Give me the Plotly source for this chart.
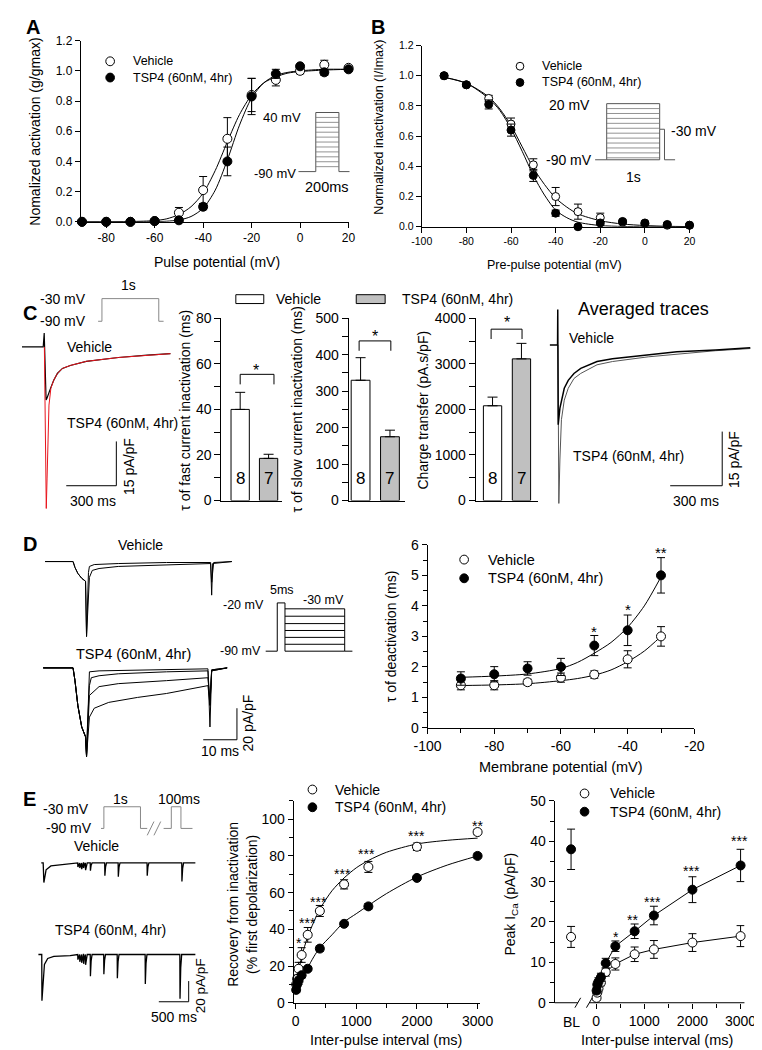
import plotly.graph_objects as go

W, H = 762, 1050
FONT = "Liberation Sans, Arial, Helvetica, sans-serif"

# ======================= DATA =======================
# ---- A: normalized activation
act_v = [-90, -80, -70, -60, -50, -40, -30, -20, -10, 0, 10, 20]
act_veh = [0, 0, 0, 0.005, 0.06, 0.21, 0.55, 0.84, 0.94, 1.0, 1.04, 1.02]
act_veh_err = [0, 0, 0, 0, 0.035, 0.09, 0.14, 0.11, 0.04, 0.02, 0.03, 0.01]
act_tsp = [0, 0, 0, 0.005, 0.01, 0.10, 0.40, 0.83, 0.98, 1.03, 0.99, 1.01]
act_tsp_err = [0, 0, 0, 0, 0, 0.02, 0.095, 0.12, 0.03, 0.01, 0.02, 0.01]
act_fit_x = [-90, -70, -60, -55, -50, -45, -40, -35, -30, -25, -20, -15, -10, -5, 0, 10, 20]
act_fit_veh = [0, 0.002, 0.008, 0.02, 0.048, 0.10, 0.19, 0.34, 0.53, 0.71, 0.84, 0.92, 0.96, 0.985, 0.995, 1.005, 1.01]
act_fit_tsp = [0, 0, 0.001, 0.004, 0.012, 0.035, 0.09, 0.21, 0.41, 0.64, 0.82, 0.92, 0.97, 0.99, 1.0, 1.01, 1.01]

# ---- B: normalized inactivation
inact_v = [-90, -80, -70, -60, -50, -40, -30, -20, -10, 0, 10, 20]
inact_veh = [1.0, 0.94, 0.85, 0.68, 0.41, 0.20, 0.10, 0.06, 0.03, 0.02, 0.01, 0.01]
inact_veh_err = [0.01, 0.01, 0.02, 0.04, 0.04, 0.06, 0.05, 0.03, 0.01, 0.01, 0.01, 0.01]
inact_tsp = [1.0, 0.94, 0.81, 0.64, 0.34, 0.09, 0.0, 0.025, 0.035, 0.025, 0.015, 0.01]
inact_tsp_err = [0.01, 0.01, 0.03, 0.04, 0.04, 0.02, 0.01, 0.01, 0.01, 0.01, 0.01, 0.01]
inact_fit_x = [-90, -80, -70, -65, -60, -55, -50, -45, -40, -35, -30, -20, -10, 0, 10, 20]
inact_fit_veh = [0.99, 0.95, 0.86, 0.78, 0.67, 0.53, 0.39, 0.28, 0.19, 0.13, 0.085, 0.04, 0.018, 0.008, 0.003, 0.001]
inact_fit_tsp = [0.99, 0.95, 0.85, 0.77, 0.65, 0.50, 0.34, 0.21, 0.11, 0.06, 0.03, 0.008, 0.002, 0.0, 0.0, 0.0]

# ---- C: bar charts
groups = ["Vehicle", "TSP4 (60nM, 4hr)"]
tau_fast = [40, 18.5]
tau_fast_err = [7.5, 1.8]
tau_slow = [330, 175]
tau_slow_err = [62, 18]
charge = [2080, 3110]
charge_err = [190, 340]
n_cells = [8, 7]

# ---- C: example traces (ms, pA/pF)
cl_veh_t = [0, 127, 133, 135.6, 141.4, 144.3, 150, 161.6, 173, 190, 212, 242, 289, 385, 577, 750, 889]
cl_veh_i = [0, 0, 4.7, -3, -14.7, -18, -17.3, -15.3, -13.7, -11.3, -9, -7.3, -6.3, -4.9, -3.6, -2.8, -2.3]
cl_tsp_t = [133.9, 140, 145.4, 150, 155.8, 161.6, 173, 190, 212, 242, 289, 385, 577, 750, 889]
cl_tsp_i = [0, -28, -54.7, -44.7, -29.7, -19.7, -14, -11.3, -9, -7.3, -6.3, -4.9, -3.6, -2.8, -2.3]

# ---- C: averaged traces (ms, pA/pF)
ca_veh_t = [0, 44.4, 45.5, 46.6, 47.5, 48, 58, 66.7, 83, 106, 139, 178, 272, 361, 567, 733, 956, 1156]
ca_veh_i = [0, 0, 9.8, 0, -15, -22.1, -17.5, -15.3, -12, -9.8, -7.9, -6.5, -4.6, -3.8, -2.7, -1.9, -1.4, -0.8]
ca_tsp_t = [46.6, 49, 51.7, 58, 66.7, 83, 106, 139, 178, 272, 361, 567, 733, 956, 1156]
ca_tsp_i = [0, -30, -43.9, -31.6, -20.7, -15.3, -12, -9.3, -7.9, -5.5, -4.6, -3.3, -2.5, -1.6, -1.0]

# ---- D: deactivation traces (ms, pA/pF)
dv_pre_t = [0, 8.29, 8.86, 9.71, 10.86, 11.71, 12.0, 12.29]
dv_pre_i = [0, 0, -3.75, -7.5, -10.6, -11.9, -12.5, -47.5]
dv_post_t = [[12.57, 12.86, 13.14, 14.57, 21.7, 36, 49.1, 49.4, 49.7, 55.4],
             [12.71, 13.14, 14, 16, 21.7, 36, 49.1, 49.4, 50, 55.4]]
dv_post_i = [[-28.8, -6.9, -3.1, -1.9, -1.25, -0.6, -0.6, -21.3, -1.25, 0],
             [-22.5, -10, -5.6, -4.4, -3.1, -1.9, -1.25, -13.1, -0.6, 0]]
dt_pre_t = [-0.57, 8.29, 8.86, 9.71, 10.86, 11.71, 12, 12.29]
dt_pre_i = [0, 0, -8.1, -23.8, -37.5, -42.5, -43.75, -56.25]
dt_post_t = [[12.57, 12.86, 13.14, 16, 36, 48.3, 48.9, 49.4, 54],
             [12.57, 13.14, 13.7, 16, 21.7, 36, 48.3, 48.9, 49.4, 54],
             [12.57, 13.14, 16, 21.7, 36, 48.3, 48.9, 49.4, 54],
             [12.57, 13.14, 14.57, 18.86, 27.4, 36, 48.3, 48.9, 49.4, 54]]
dt_post_i = [[-36.25, -17.5, -2.5, -1.9, -1.25, -0.6, -37.5, -1.9, 0],
             [-36.25, -11.25, -6.25, -5, -3.75, -2.5, -1.9, -23.75, -1.25, 0],
             [-40, -17.5, -11.9, -10, -8.1, -6.25, -20.6, -1.25, 0],
             [-45.6, -31.25, -25.6, -21.9, -18.75, -16.25, -11.25, -23.75, -1.9, 0]]

# ---- D: tau of deactivation
deact_v = [-90, -80, -70, -60, -50, -40, -30]
deact_veh = [1.4, 1.4, 1.5, 1.65, 1.75, 2.25, 3.0]
deact_veh_err = [0.15, 0.15, 0.1, 0.15, 0.12, 0.28, 0.32]
deact_tsp = [1.62, 1.76, 1.95, 2.0, 2.7, 3.2, 5.0]
deact_tsp_err = [0.22, 0.25, 0.22, 0.28, 0.33, 0.5, 0.58]
deact_fit_x = [-90, -80, -70, -60, -55, -50, -45, -40, -35, -30]
deact_fit_veh = [1.39, 1.41, 1.45, 1.55, 1.62, 1.73, 1.9, 2.17, 2.52, 3.0]
deact_fit_tsp = [1.66, 1.70, 1.77, 1.95, 2.15, 2.45, 2.8, 3.3, 4.0, 4.95]
deact_stars = ["*", "*", "**"]
deact_star_v = [-50, -40, -30]
deact_star_y = [3.17, 3.87, 5.75]

# ---- E: recovery traces (ms, pA/pF)
ev_base_t = [0, 32, 43.5, 80.6, 161, 323, 532]
ev_base_i = [0, 0, -19, -6.7, -2.9, -1.9, -1]
ev_spike_t = [613, 645, 677, 710, 742, 823, 1065, 1290, 1774, 2355]
ev_spike_i = [-4, -5, -6, -5, -7, -7.6, -12.4, -13.3, -12.4, -18]
et_base_t = [-48, 8, 11.3, 53, 108, 210, 484]
et_base_i = [0, 0, -44.8, -9.5, -3.8, -1.9, -1]
et_spike_t = [613, 645, 677, 710, 742, 823, 1048, 1274, 1742, 2323]
et_spike_i = [-5, -7, -8, -9, -10, -21, -19, -22.9, -28.6, -42.9]

# ---- E: recovery from inactivation
rec_x = [10, 25, 50, 100, 200, 400, 800, 1200, 2000, 3000]
rec_veh = [10, 13, 18.5, 26, 37, 50, 64.5, 74, 85, 93]
rec_veh_err = [2, 2, 3.5, 4, 4, 3, 2.5, 3, 2, 1.5]
rec_tsp = [7, 10, 12, 15, 18.5, 29.5, 43, 52.5, 68, 80]
rec_tsp_err = [1.5, 1.5, 2, 1.5, 1, 1.5, 1, 1.5, 1, 1.5]
rec_fit_x = [0, 50, 100, 200, 300, 400, 600, 800, 1000, 1200, 1500, 2000, 2500, 3000]
rec_fit_veh = [8, 17, 25, 36, 44, 51, 61, 68, 73.5, 77.5, 82, 86.5, 88.5, 89.7]
rec_fit_tsp = [6, 9, 12, 19, 25, 30, 37, 44, 48.5, 53, 59.5, 68.5, 75, 80]
rec_stars = ["*", "***", "***", "***", "***", "***", "**"]
rec_star_x = [60, 200, 380, 780, 1170, 2000, 3000]
rec_star_y = [32.7, 43.4, 54.7, 70.2, 81, 90.6, 96.5]

# ---- E: peak ICa
peak_veh = [1.2, 2.5, 3.5, 5.0, 7.6, 9.6, 12.0, 13.2, 14.9, 16.5]
peak_veh_err = [0.5, 0.5, 0.8, 0.8, 1.0, 1.5, 1.8, 2.2, 2.2, 2.6]
peak_tsp = [3.0, 4.5, 5.2, 6.3, 9.8, 14.0, 17.7, 21.6, 28.0, 34.0]
peak_tsp_err = [0.8, 0.8, 1.0, 1.0, 1.2, 1.3, 1.8, 2.3, 3.2, 4.0]
bl_veh, bl_veh_err = 16.3, 2.6
bl_tsp, bl_tsp_err = 38.0, 5.0
BL_POS = -520
peak_stars = ["*", "**", "***", "***", "***"]
peak_star_x = [413, 747, 1180, 1980, 2980]
peak_star_y = [16.4, 20.5, 24.9, 32.7, 40]

# ======================= HELPERS =======================
fig = go.Figure()
axes = {}
ann = []
shapes = []


def names(n):
    s = "" if n == 1 else str(n)
    return "x" + s, "y" + s


def add_axes(n, xd, yd, xr, yr, visible=True, tick=12, xkw=None, ykw=None):
    xn, yn = names(n)
    xa = dict(domain=[xd[0] / W, xd[1] / W], range=xr, anchor=yn, showgrid=False, zeroline=False)
    ya = dict(domain=[1 - yd[1] / H, 1 - yd[0] / H], range=yr, anchor=xn, showgrid=False, zeroline=False)
    if visible:
        common = dict(showline=True, linecolor="black", linewidth=1, ticks="outside", ticklen=5,
                      tickcolor="black", tickwidth=1,
                      tickfont=dict(family=FONT, size=tick, color="black"))
        xa.update(common)
        ya.update(common)
    else:
        xa.update(visible=False)
        ya.update(visible=False)
    if xkw:
        xa.update(xkw)
    if ykw:
        ya.update(ykw)
    axes["xaxis" + ("" if n == 1 else str(n))] = xa
    axes["yaxis" + ("" if n == 1 else str(n))] = ya


def txt(x, y, s, size=14, xa="center", ya="middle", angle=0, bold=False, color="black"):
    ann.append(dict(x=x / W, y=1 - y / H, xref="paper", yref="paper",
                    text=f"<b>{s}</b>" if bold else s, showarrow=False,
                    xanchor=xa, yanchor=ya, textangle=angle,
                    font=dict(family=FONT, size=size, color=color)))


def dtxt(n, x, y, s, size=14, ya="middle"):
    xn, yn = names(n)
    ann.append(dict(x=x, y=y, xref=xn, yref=yn, text=s, showarrow=False,
                    xanchor="center", yanchor=ya, font=dict(family=FONT, size=size, color="black")))


def ppath(pts, color="black", w=1):
    p = "M " + " L ".join(f"{x / W:.5f},{1 - y / H:.5f}" for x, y in pts)
    shapes.append(dict(type="path", path=p, xref="paper", yref="paper",
                       line=dict(color=color, width=w)))


def dpath(n, pts, color="black", w=1):
    xn, yn = names(n)
    p = "M " + " L ".join(f"{x},{y}" for x, y in pts)
    shapes.append(dict(type="path", path=p, xref=xn, yref=yn, line=dict(color=color, width=w)))


def circ(cx, cy, r, filled):
    shapes.append(dict(type="circle", xref="paper", yref="paper",
                       x0=(cx - r) / W, x1=(cx + r) / W, y0=1 - (cy + r) / H, y1=1 - (cy - r) / H,
                       line=dict(color="black", width=1), fillcolor="black" if filled else "white"))


def legend(cx, y1, y2, tx, size, r=4.5):
    circ(cx, y1, r, False)
    circ(cx, y2, r, True)
    txt(tx, y1, "Vehicle", size, xa="left")
    txt(tx, y2, "TSP4 (60nM, 4hr)", size, xa="left")


def pts_trace(n, x, y, err, filled, size=9):
    xn, yn = names(n)
    fig.add_trace(go.Scatter(
        x=x, y=y, xaxis=xn, yaxis=yn, mode="markers", cliponaxis=False,
        marker=dict(symbol="circle", size=size, color="black" if filled else "white",
                    line=dict(color="black", width=1)),
        error_y=dict(type="data", array=err, visible=True, color="black", thickness=1, width=4)))


def line_trace(n, x, y, color="black", w=1, shape="spline"):
    xn, yn = names(n)
    fig.add_trace(go.Scatter(x=x, y=y, xaxis=xn, yaxis=yn, mode="lines", cliponaxis=False,
                             line=dict(color=color, width=w, shape=shape, smoothing=0.8 if shape == "spline" else None)))


def hyph(vals, fmt="{:g}"):
    return [fmt.format(v).replace("−", "-") for v in vals]


# ======================= PANEL A =======================
add_axes(1, (61, 339), (25, 209), [-90.5, 20], [0, 1.2], tick=12,
         xkw=dict(tickmode="array", tickvals=[-80, -60, -40, -20, 0, 20], ticktext=hyph([-80, -60, -40, -20, 0, 20])),
         ykw=dict(tickmode="array", tickvals=[0, 0.2, 0.4, 0.6, 0.8, 1.0, 1.2],
                  ticktext=["0.0", "0.2", "0.4", "0.6", "0.8", "1.0", "1.2"]))
line_trace(1, act_fit_x, act_fit_veh)
line_trace(1, act_fit_x, act_fit_tsp)
pts_trace(1, act_v, act_veh, act_veh_err, False)
pts_trace(1, act_v, act_tsp, act_tsp_err, True)
txt(11, 11, "A", 20, bold=True)
txt(14, 117, "Nomalized activation (g/gmax)", 14, angle=-90)
txt(202, 250, "Pulse potential (mV)", 14)
legend(91.5, 46, 62.5, 113, 12.5)
# protocol inset
ppath([(287, 158), (305, 158), (305, 98), (329, 98), (329, 158), (340, 158)], "#555")
for yy in range(103, 158, 5):
    ppath([(305, yy), (329, yy)], "#777", 0.8)
txt(292, 103, "40 mV", 13, xa="right")
txt(287, 160, "-90 mV", 13, xa="right")
txt(317, 174, "200ms", 14.5)

# ======================= PANEL B =======================
add_axes(2, (415, 693), (30, 214), [-100, 20], [0, 1.2], tick=10.5,
         xkw=dict(tickmode="array", tickvals=[-100, -80, -60, -40, -20, 0, 20],
                  ticktext=hyph([-100, -80, -60, -40, -20, 0, 20])),
         ykw=dict(tickmode="array", tickvals=[0, 0.2, 0.4, 0.6, 0.8, 1.0, 1.2],
                  ticktext=["0.0", "0.2", "0.4", "0.6", "0.8", "1.0", "1.2"]))
line_trace(2, inact_fit_x, inact_fit_veh)
line_trace(2, inact_fit_x, inact_fit_tsp)
pts_trace(2, inact_v, inact_veh, inact_veh_err, False, size=8)
pts_trace(2, inact_v, inact_tsp, inact_tsp_err, True, size=8)
txt(370, 11, "B", 20, bold=True)
txt(371, 113, "Normalized inactivation (I/Imax)", 12.5, angle=-90)
txt(553, 253, "Pre-pulse potential (mV)", 12.5)
legend(517, 51, 67.5, 538, 12.5, r=4)
ppath([(595, 146), (607, 146), (607, 89), (662, 89), (662, 115), (667, 115), (667, 146), (678, 146)], "#555")
ppath([(607, 146), (662, 146)], "#555")
for yy in range(94, 146, 5):
    ppath([(607, yy), (662, yy)], "#777", 0.8)
ppath([(662, 115), (662, 146)], "#555")
txt(592, 90, "20 mV", 14, xa="right")
txt(672, 117, "-30 mV", 14, xa="left")
txt(594, 146, "-90 mV", 14, xa="right")
txt(635, 163, "1s", 14)

# ======================= PANEL C =======================
txt(8, 302, "C", 20, bold=True)
# left example trace
add_axes(3, (0, 160), (320, 505), [0, 923], [-56.33, 5.33], visible=False)
line_trace(3, cl_veh_t, cl_veh_i, "black", 1.2, "linear")
line_trace(3, cl_tsp_t, cl_tsp_i, "#e8141c", 1.0, "linear")
dpath(3, [(565 - 300, -47), (565, -47), (565, -47 + 15)], "black", 1)
txt(111, 457, "15 pA/pF", 14, angle=-90)
txt(74, 492, "300 ms", 14)
txt(45, 336, "Vehicle", 14, xa="left")
txt(45, 413, "TSP4 (60nM, 4hr)", 14, xa="left")
ppath([(79, 310), (83, 310), (83, 287), (142, 287), (142, 310), (147, 310)], "#888")
txt(68, 287, "-30 mV", 14, xa="right")
txt(68, 310, "-90 mV", 14, xa="right")
txt(111, 273, "1s", 14)

# bar charts
bar_colors = ["white", "#c0c0c0"]


def bar_panel(n, xd, xr, vals, errs, ymax, dt, minor, width):
    add_axes(n, xd, (307, 492), xr, [0, ymax], tick=14,
             xkw=dict(ticks="", showticklabels=False),
             ykw=dict(dtick=dt, tick0=0, ticklen=6,
                      minor=dict(dtick=minor, ticks="outside", ticklen=6, tickcolor="black")))
    xn, yn = names(n)
    fig.add_trace(go.Bar(x=[1, 2], y=vals, width=width, xaxis=xn, yaxis=yn,
                         marker=dict(color=bar_colors, line=dict(color="black", width=1)),
                         error_y=dict(type="data", array=errs, arrayminus=[0, 0], symmetric=False,
                                      color="black", thickness=1, width=5)))
    for k in range(2):
        dtxt(n, k + 1, ymax * (492 - 470) / 185, str(n_cells[k]), 17)


bar_panel(4, (207, 270), [0.339, 2.475], tau_fast, tau_fast_err, 80, 20, 10, 0.644)
bar_panel(5, (339, 398), [0.59, 2.525], tau_slow, tau_slow_err, 500, 100, 50, 0.64)
bar_panel(6, (471, 536), [0.417, 2.583], charge, charge_err, 4000, 1000, 500, 0.633)
dpath(4, [(1.0, 51), (1.0, 55.4), (2.19, 55.4), (2.19, 51)])
dtxt(4, 1.56, 57.2, "*", 16)
dpath(5, [(0.95, 411), (0.95, 438), (2.03, 438), (2.03, 411)])
dtxt(5, 1.5, 451, "*", 16)
dpath(6, [(0.95, 3546), (0.95, 3762), (2.02, 3762), (2.02, 3546)])
dtxt(6, 1.5, 3900, "*", 16)
txt(169, 400, "τ of fast current inactivation (ms)", 14, angle=-90)
txt(285, 400, "τ of slow current inactivation (ms)", 14, angle=-90)
txt(416, 400, "Charge transfer (pA.s/pF)", 14, angle=-90)
# bar legend
shapes.append(dict(type="rect", xref="paper", yref="paper", x0=222 / W, x1=251 / W,
                   y0=1 - 292 / H, y1=1 - 283 / H, line=dict(color="black", width=1), fillcolor="white"))
shapes.append(dict(type="rect", xref="paper", yref="paper", x0=347 / W, x1=377 / W,
                   y0=1 - 292 / H, y1=1 - 283 / H, line=dict(color="black", width=1), fillcolor="#c0c0c0"))
txt(262, 287, groups[0], 14, xa="left")
txt(392, 287, groups[1], 14, xa="left")

# averaged traces
add_axes(7, (545, 760), (295, 500), [-16.7, 1177.8], [-45.27, 10.64], visible=False)
line_trace(7, ca_tsp_t, ca_tsp_i, "#555", 1.0, "linear")
line_trace(7, ca_veh_t, ca_veh_i, "black", 1.5, "linear")
dpath(7, [(994 - 300, -39), (994, -39), (994, -39 + 15)], "black", 1)
txt(645, 298, "Averaged traces", 18)
txt(566, 327, "Vehicle", 14, xa="left")
txt(570, 447, "TSP4 (60nM, 4hr)", 14, xa="left")
txt(739, 450, "15 pA/pF", 14, angle=-90)
txt(700, 492, "300 ms", 14)

# ======================= PANEL D =======================
txt(8, 536, "D", 20, bold=True)
add_axes(8, (18, 230), (540, 635), [-1.71, 58.86], [-50.6, 8.75], visible=False)
add_axes(9, (18, 230), (645, 760), [-1.71, 58.86], [-61.25, 10.6], visible=False)
for pt, pi in zip(dv_post_t, dv_post_i):
    line_trace(8, dv_pre_t + pt, dv_pre_i + pi, "black", 1, "linear")
for pt, pi in zip(dt_post_t, dt_post_i):
    line_trace(9, dt_pre_t + pt, dt_pre_i + pi, "black", 1, "linear")
dpath(9, [(56.9 - 10, -45.6), (56.9, -45.6), (56.9, -45.6 + 20)], "black", 1)
txt(123, 537, "Vehicle", 14)
txt(116, 648, "TSP4 (60nM, 4hr)", 14.5)
txt(235, 718, "20 pA/pF", 14, angle=-90)
txt(206, 746, "10 ms", 14)
# protocol
ppath([(253, 645), (265, 645), (265, 596), (273, 596), (273, 645)])
for yy in [602, 609.5, 617, 624, 631, 638, 645]:
    ppath([(273, yy), (335, yy)])
ppath([(335, 602), (335, 645), (343, 645)])
txt(253, 598, "-20 mV", 12.5, xa="right")
txt(270, 583, "5ms", 12.5)
txt(313, 593, "-30 mV", 12.5)
txt(250, 645, "-90 mV", 12.5, xa="right")

# tau deactivation
add_axes(10, (421, 698), (537, 723), [-100, -20], [0, 6], tick=14,
         xkw=dict(tickmode="array", tickvals=[-100, -80, -60, -40, -20], ticktext=hyph([-100, -80, -60, -40, -20]),
                  minor=dict(tickvals=[-90, -70, -50, -30], ticks="outside", ticklen=4, tickcolor="black")),
         ykw=dict(dtick=1, tick0=0, minor=dict(dtick=0.5, ticks="outside", ticklen=4, tickcolor="black")))
line_trace(10, deact_fit_x, deact_fit_veh)
line_trace(10, deact_fit_x, deact_fit_tsp)
pts_trace(10, deact_v, deact_veh, deact_veh_err, False)
pts_trace(10, deact_v, deact_tsp, deact_tsp_err, True)
for s, xv, yv in zip(deact_stars, deact_star_v, deact_star_y):
    dtxt(10, xv, yv, s, 15)
legend(459, 552, 571, 482, 14.5)
txt(384, 630, "τ of deactivation (ms)", 14, angle=-90)
txt(560, 763, "Membrane potential (mV)", 14.5)

# ======================= PANEL E =======================
txt(8, 795, "E", 20, bold=True)


def spiky(bt, bi, st, si, end_t):
    t, i = list(bt), list(bi)
    for a, b in zip(st, si):
        t += [a - 3, a, a + 12, a + 28]
        i += [0, b, b * 0.3, 0]
    t.append(end_t)
    i.append(0)
    return t, i


add_axes(11, (14, 185), (845, 885), [-96.8, 2661], [-23.8, 14.3], visible=False)
add_axes(12, (14, 185), (940, 1005), [-96.8, 2661], [-49.5, 12.4], visible=False)
vt, vi = spiky(ev_base_t, ev_base_i, ev_spike_t, ev_spike_i, 2580)
tt, ti = spiky(et_base_t, et_base_i, et_spike_t, et_spike_i, 2580)
line_trace(11, vt, vi, "black", 1.3, "linear")
line_trace(12, tt, ti, "black", 1.3, "linear")
dpath(12, [(2468 - 500, -45.7), (2468, -45.7), (2468, -45.7 + 20)], "black", 1)
txt(77, 843, "Vehicle", 14)
txt(92, 928, "TSP4 (60nM, 4hr)", 14)
txt(186, 985, "20 pA/pF", 13.5, angle=-90)
txt(158, 1016, "500 ms", 14)
ppath([(82, 825), (85, 825), (85, 803), (123, 803), (123, 825), (130, 825)], "#888")
ppath([(130, 832), (137, 818)], "#888")
ppath([(137, 832), (144, 818)], "#888")
ppath([(147, 825), (155, 825), (155, 803), (165, 803), (165, 825), (177, 825)], "#888")
txt(72, 805, "-30 mV", 14, xa="right")
txt(75, 825, "-90 mV", 14, xa="right")
txt(102, 795, "1s", 14)
txt(163, 795, "100ms", 14)

# recovery
add_axes(13, (282, 475), (797, 1002), [-31.7, 3032], [0, 110], tick=14,
         xkw=dict(tickmode="array", tickvals=[0, 1000, 2000, 3000], ticktext=["0", "1000", "2000", "3000"],
                  minor=dict(tickvals=[500, 1500, 2500], ticks="outside", ticklen=4, tickcolor="black")),
         ykw=dict(tickmode="array", tickvals=[0, 20, 40, 60, 80, 100],
                  minor=dict(tickvals=[10, 30, 50, 70, 90, 110], ticks="outside", ticklen=4, tickcolor="black")))
line_trace(13, rec_fit_x, rec_fit_veh)
line_trace(13, rec_fit_x, rec_fit_tsp)
pts_trace(13, rec_x, rec_veh, rec_veh_err, False)
pts_trace(13, rec_x, rec_tsp, rec_tsp_err, True)
for s, xv, yv in zip(rec_stars, rec_star_x, rec_star_y):
    dtxt(13, xv, yv, s, 14)
legend(301.5, 785.5, 803.5, 323, 14)
txt(229, 902, "Recovery from inactivation<br>(% first depolarization)", 14, angle=-90)
txt(378, 1040, "Inter-pulse interval (ms)", 14.5)

# peak ICa
add_axes(14, (553, 750), (797, 1002), [-860, 3080], [0, 50], tick=14,
         xkw=dict(showline=False, tickmode="array", tickvals=[0, 1000, 2000, 3000],
                  ticktext=["0", "1000", "2000", "3000"],
                  minor=dict(tickvals=[500, 1500, 2500], ticks="outside", ticklen=4, tickcolor="black")),
         ykw=dict(dtick=10, tick0=0, minor=dict(dtick=5, ticks="outside", ticklen=4, tickcolor="black")))
line_trace(14, rec_x, peak_veh, shape="linear")
line_trace(14, rec_x, peak_tsp, shape="linear")
pts_trace(14, rec_x, peak_veh, peak_veh_err, False)
pts_trace(14, rec_x, peak_tsp, peak_tsp_err, True)
pts_trace(14, [BL_POS], [bl_veh], [bl_veh_err], False)
pts_trace(14, [BL_POS], [bl_tsp], [bl_tsp_err], True)
for s, xv, yv in zip(peak_stars, peak_star_x, peak_star_y):
    dtxt(14, xv, yv, s, 14)
ppath([(553, 1002), (577, 1002)])
ppath([(589, 1002), (750, 1002)])
ppath([(574, 1007), (580, 997)])
ppath([(586, 1007), (592, 997)])
txt(570, 1022, "BL", 14)
legend(584, 789.5, 808, 608, 14)
txt(508, 902, "Peak I<sub>Ca</sub> (pA/pF)", 14, angle=-90)
txt(659, 1040, "Inter-pulse interval (ms)", 14.5)

fig.update_layout(width=W, height=H, margin=dict(l=0, r=0, t=0, b=0),
                  paper_bgcolor="white", plot_bgcolor="rgba(0,0,0,0)",
                  showlegend=False, annotations=ann, shapes=shapes,
                  font=dict(family=FONT, color="black"), **axes)
fig.write_html("out.html")
